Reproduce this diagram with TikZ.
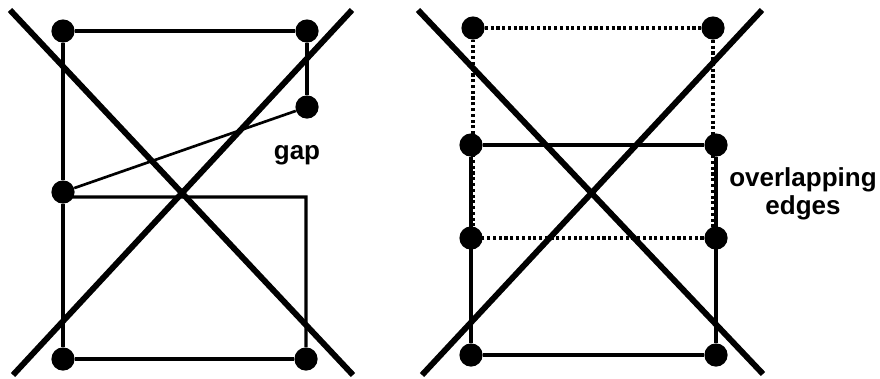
\documentclass[tikz,border=0pt]{standalone}
\usepackage{fontspec}
\setmainfont{Liberation Sans}
\usepackage{tikz}
\usetikzlibrary{positioning,calc}

\begin{document}
\begin{tikzpicture}[x=0.025cm, y=-0.025cm,
    vtx/.style={circle, fill=black, inner sep=0pt, minimum size=0.58cm},
    edge/.style={line width=2.2pt},
    dotedge/.style={line width=2.4pt, dash pattern=on 2.2pt off 1.9pt},
    cross/.style={line width=4.2pt},
    lbl/.style={font=\bfseries\fontsize{18.5}{20}\selectfont, align=center}]
    \useasboundingbox (0,0) rectangle (880,378);

    % 左图 - 有缺口
    \node[vtx] (p1) at (63,31) {};
    \node[vtx] (p2) at (307,31) {};
    \node[vtx] (p3) at (307,107) {};
    \node[vtx] (p4) at (63,192) {};
    \node[vtx] (p5) at (63,359) {};
    \node[vtx] (p6) at (306,359) {};
    \coordinate (q) at (306,197);

    \draw[edge] (p1) -- (p2) -- (p3);
    \draw[edge] (p1) -- (p4) -- (p5) -- (p6);
    \draw[edge] ([yshift=-0.125cm]p4.center) -- (q) -- (p6);
    \draw[edge, line width=1.9pt] (p4) -- (p3);
    \node[lbl] (gap) at (297,155) {gap};

    % 右图 - 边重叠
    \node[vtx] (a1) at (473,28) {};
    \node[vtx] (a2) at (713,28) {};
    \node[vtx] (b1) at (471,145) {};
    \node[vtx] (b2) at (716,145) {};
    \node[vtx] (c1) at (471,238) {};
    \node[vtx] (c2) at (716,238) {};
    \node[vtx] (d1) at (471,355) {};
    \node[vtx] (d2) at (716,355) {};

    \draw[dotedge] (a1) -- (a2) -- (a2 |- c2) -- (a1 |- c1) -- (a1);
    \draw[edge] (b1) -- (b2) -- (d2) -- (d1) -- (b1);
    \node[lbl] (ovl) at (803,194) {overlapping\\edges};

    % 叉号
    \coordinate (l1) at (10,10);   \coordinate (l2) at (353,375);
    \coordinate (l3) at (352,10);  \coordinate (l4) at (13,375);
    \coordinate (r1) at (418,10);  \coordinate (r2) at (763,374);
    \coordinate (r3) at (762,10);  \coordinate (r4) at (422,375);
    \draw[cross] (l1) -- (l2);
    \draw[cross] (l3) -- (l4);
    \draw[cross] (r1) -- (r2);
    \draw[cross] (r3) -- (r4);
\end{tikzpicture}
\end{document}
